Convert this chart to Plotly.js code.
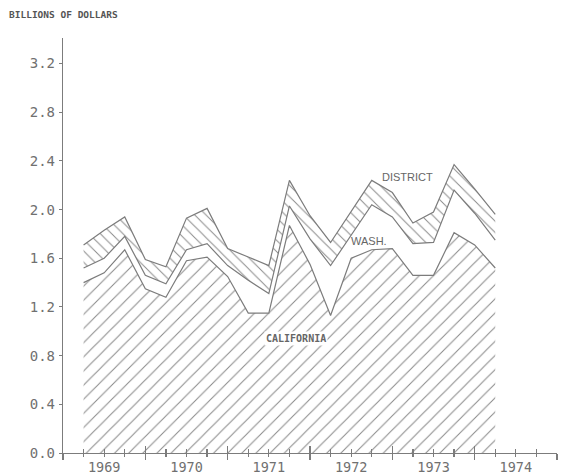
<!DOCTYPE html>
<html><head><meta charset="utf-8">
<script src="https://cdn.plot.ly/plotly-3.0.1.min.js"></script>
<style>html,body{margin:0;padding:0;background:#fff}#chart{width:561px;height:476px}</style>
</head><body><div id="chart"></div>
<script>
// Quarterly positions (end of quarter, in years)
const quarterEnds = [1969.25,1969.5,1969.75,1970.0,1970.25,1970.5,1970.75,1971.0,1971.25,1971.5,1971.75,1972.0,1972.25,1972.5,1972.75,1973.0,1973.25,1973.5,1973.75,1974.0,1974.25];
// Billions of dollars
const california = [1.40,1.48,1.67,1.35,1.28,1.58,1.61,1.45,1.15,1.15,1.87,1.55,1.13,1.60,1.67,1.68,1.46,1.46,1.81,1.71,1.52];
const wash       = [0.12,0.12,0.11,0.11,0.11,0.09,0.11,0.09,0.27,0.16,0.16,0.21,0.41,0.19,0.37,0.26,0.26,0.27,0.35,0.26,0.23];
const district   = [0.19,0.23,0.16,0.13,0.14,0.26,0.29,0.14,0.19,0.23,0.21,0.19,0.19,0.19,0.20,0.20,0.17,0.25,0.21,0.20,0.21];
const yearLabels = ['1969','1970','1971','1972','1973','1974'];
const yearMids   = [1969.5,1970.5,1971.5,1972.5,1973.5,1974.5];
const yTickVals  = [0,0.4,0.8,1.2,1.6,2.0,2.4,2.8,3.2];
const yTickText  = ['0.0','0.4','0.8','1.2','1.6','2.0','2.4','2.8','3.2'];

const lineCol = '#7c7c7c';
const stackWash = california.map((v,i)=>v+wash[i]);
const stackDist = stackWash.map((v,i)=>v+district[i]);

const traces = [
  {x: quarterEnds, y: california, mode:'lines', fill:'tozeroy', fillcolor:'#ffffff',
   fillpattern:{shape:'/', size:10, solidity:0.1, fgcolor:'#8a8a8a', bgcolor:'#ffffff', fillmode:'replace'},
   line:{color:lineCol, width:1.2}, hoverinfo:'skip'},
  {x: quarterEnds, y: stackWash, mode:'lines', fill:'none',
   line:{color:lineCol, width:1.2}, hoverinfo:'skip'},
  {x: quarterEnds, y: stackDist, mode:'lines', fill:'tonexty', fillcolor:'#ffffff',
   fillpattern:{shape:'\\', size:8, solidity:0.12, fgcolor:'#8a8a8a', bgcolor:'#ffffff', fillmode:'replace'},
   line:{color:lineCol, width:1.2}, hoverinfo:'skip'},
  // invisible carriers so the tick-only overlay axes get drawn
  {x: quarterEnds, y: california, xaxis:'x2', yaxis:'y', mode:'lines', opacity:0, line:{width:0}, hoverinfo:'skip'},
  {x: quarterEnds, y: california, xaxis:'x3', yaxis:'y', mode:'lines', opacity:0, line:{width:0}, hoverinfo:'skip'}
];

const monoFont = {family:'DejaVu Sans Mono, monospace', color:'#707070'};
const tickAxis = (dir, big, small) => ({
  overlaying:'x', anchor:'y', range:[1969,1975], tickmode:'linear', tick0:1969, dtick:1,
  ticks:dir, ticklen:big, tickcolor:lineCol, tickwidth:1.2, showticklabels:false,
  showgrid:false, zeroline:false, showline:false, side:'bottom',
  minor:{tick0:1969, dtick:0.25, ticks:dir, ticklen:small, tickcolor:lineCol, tickwidth:1.2, showgrid:false}
});

const layout = {
  width:561, height:476,
  margin:{l:63, r:4, t:38, b:23},
  paper_bgcolor:'#ffffff', plot_bgcolor:'#ffffff',
  showlegend:false,
  xaxis:{range:[1969,1975], tickmode:'array', tickvals:yearMids, ticktext:yearLabels,
    ticks:'', showline:true, linecolor:lineCol, linewidth:1.2, showgrid:false, zeroline:false,
    tickfont:Object.assign({size:13.5}, monoFont), ticklabelstandoff:2, automargin:false},
  xaxis2: tickAxis('outside', 6, 3),
  xaxis3: tickAxis('inside', 7, 4),
  yaxis:{range:[0,3.41], tickmode:'array', tickvals:yTickVals, ticktext:yTickText,
    ticks:'outside', ticklen:3, tickcolor:lineCol, showline:true, linecolor:lineCol, linewidth:1.2,
    showgrid:false, zeroline:false, tickfont:Object.assign({size:14}, monoFont),
    ticklabelstandoff:1, automargin:false},
  annotations:[
    {xref:'paper', yref:'paper', x:-0.113, y:1.057, xanchor:'left', yanchor:'middle', showarrow:false,
     text:'<b>BILLIONS OF DOLLARS</b>', font:{family:'DejaVu Sans Mono, monospace', size:9.5, color:'#555'}},
    {x:1973.18, y:2.27, xref:'x', yref:'y', showarrow:false, text:'DISTRICT',
     font:{family:'Liberation Sans, Arial', size:11, color:'#666'}},
    {x:1972.72, y:1.74, xref:'x', yref:'y', showarrow:false, text:'WASH.',
     font:{family:'Liberation Sans, Arial', size:11, color:'#666'}},
    {x:1971.83, y:0.94, xref:'x', yref:'y', showarrow:false, text:'<b>CALIFORNIA</b>', bgcolor:'#ffffff',
     font:{family:'DejaVu Sans Mono, monospace', size:10, color:'#666'}}
  ]
};

Plotly.newPlot('chart', traces, layout, {staticPlot:true, displayModeBar:false});
</script>
</body></html>
